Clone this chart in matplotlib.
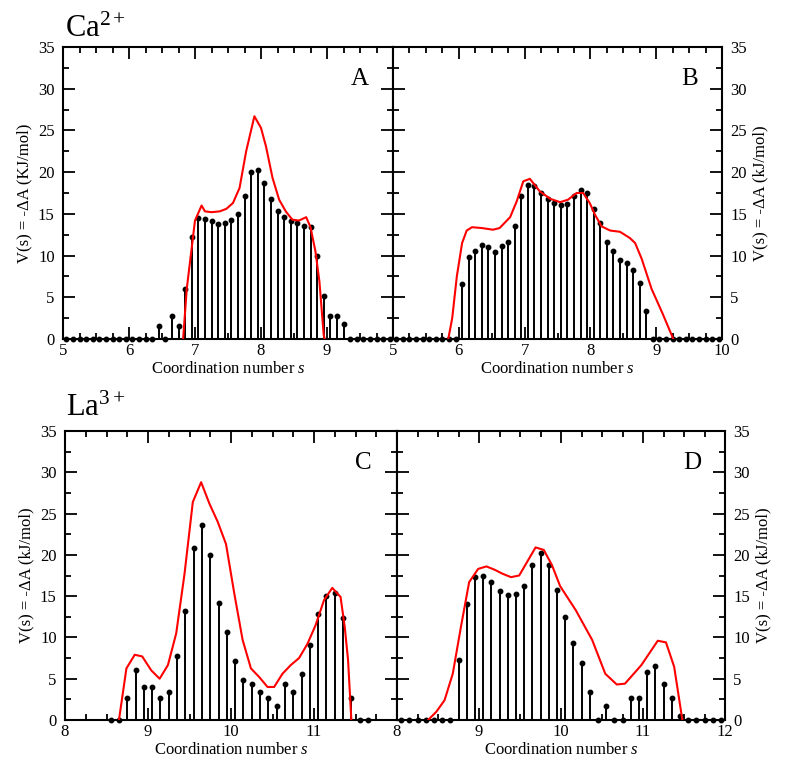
import numpy as np
import matplotlib
matplotlib.use('Agg')
import matplotlib.pyplot as plt
from matplotlib.ticker import MultipleLocator

plt.rcParams['font.family'] = ['Liberation Serif', 'DejaVu Serif']
plt.rcParams['mathtext.fontset'] = 'custom'
plt.rcParams['mathtext.rm'] = 'Liberation Serif'
plt.rcParams['mathtext.it'] = 'Liberation Serif:italic'

# ---- data ----
# Ca2+ : bin centres 5.05 ... 9.95
ca_s = np.round(np.arange(5.05, 10.0, 0.1), 2)
ca_A = [0, 0, 0, 0, 0, 0, 0, 0, 0, 0, 0, 0, 0, 0,
        1.6, 0, 2.7, 1.6, 6.0, 12.2, 14.5, 14.4, 14.2, 13.8, 13.9, 14.3, 15.0,
        17.1, 20.0, 20.3, 18.7, 16.8, 15.3, 14.6, 14.1, 13.9, 13.5, 13.4,
        10.0, 5.2, 2.8, 2.8, 1.8,
        0, 0, 0, 0, 0, 0, 0]
ca_B = [0, 0, 0, 0, 0, 0, 0, 0, 0, 0,
        6.65, 9.8, 10.6, 11.3, 11.0, 10.4, 11.2, 11.6, 13.6, 17.1, 18.5, 18.3,
        17.5, 16.8, 16.25, 16.1, 16.2, 17.2, 17.9, 17.5, 15.6, 13.9, 11.6,
        10.6, 9.5, 9.1, 8.3, 6.7, 3.3,
        0, 0, 0, 0, 0, 0, 0, 0, 0, 0, 0]

fitA_s = [6.82, 6.875, 7.0, 7.1, 7.15, 7.25, 7.375, 7.475, 7.575, 7.675, 7.775,
          7.9, 8.0, 8.075, 8.175, 8.275, 8.375, 8.475, 8.575, 8.685, 8.75,
          8.825, 8.885, 8.95, 8.965]
fitA_v = [0, 6.0, 14.2, 16.0, 15.3, 15.2, 15.3, 15.6, 16.3, 18.1, 22.5,
          26.7, 25.3, 23.1, 19.3, 16.7, 15.3, 14.3, 14.2, 14.6, 13.4,
          10.5, 6.9, 0.5, 0]
fitB_s = [5.84, 5.9, 5.97, 6.05, 6.12, 6.2, 6.35, 6.52, 6.62, 6.78, 6.88, 6.98,
          7.08, 7.23, 7.39, 7.54, 7.66, 7.79, 7.89, 7.99, 8.07, 8.17, 8.30,
          8.45, 8.6, 8.68, 8.78, 8.93, 9.1, 9.26]
fitB_v = [0, 2.5, 7.5, 11.5, 13.0, 13.4, 13.3, 13.1, 13.3, 14.6, 16.5, 18.9,
          19.2, 17.7, 16.8, 16.4, 16.7, 17.5, 17.5, 16.3, 14.9, 13.5, 13.0,
          12.85, 12.1, 11.5, 9.6, 6.0, 3.0, 0]

# La3+
la_sC = np.round(np.arange(8.55, 11.7, 0.1), 2)
la_C = [0, 0, 2.7, 6.1, 4.0, 4.0, 2.7, 3.4, 7.7, 13.2, 20.8, 23.6, 20.0, 14.2,
        10.6, 7.1, 4.8, 4.4, 3.4, 2.7, 1.7, 4.4, 3.4, 5.6, 9.1, 12.8, 15.0,
        15.4, 12.4, 2.7, 0, 0]
la_sD = np.round(np.arange(8.05, 12.0, 0.1), 2)
la_D = [0, 0, 0, 0, 0, 0, 0,
        7.3, 14.0, 17.3, 17.5, 16.7, 15.6, 15.1, 15.3, 16.2, 18.75, 20.2,
        18.75, 15.7, 12.5, 9.3, 6.85, 3.4, 0, 1.7, 0, 0, 2.7, 2.7, 5.85, 6.6,
        4.4, 2.7, 0.5,
        0, 0, 0, 0, 0]

fitC_s = [8.65, 8.74, 8.84, 8.93, 9.04, 9.14, 9.24, 9.34, 9.44, 9.54, 9.64,
          9.74, 9.84, 9.94, 10.04, 10.14, 10.24, 10.34, 10.44, 10.52, 10.62,
          10.72, 10.82, 10.92, 11.02, 11.12, 11.22, 11.32, 11.37, 11.41, 11.45]
fitC_v = [0, 6.25, 7.9, 7.7, 6.0, 5.0, 6.65, 10.5, 17.7, 26.4, 28.8, 26.2,
          24.0, 21.3, 15.3, 9.7, 6.25, 5.2, 4.0, 4.0, 5.6, 6.65, 7.5, 9.2,
          11.5, 14.5, 16.0, 14.9, 11.3, 7.3, 0]
fitD_s = [8.38, 8.48, 8.58, 8.68, 8.78, 8.88, 8.99, 9.09, 9.19, 9.29, 9.39,
          9.49, 9.59, 9.69, 9.79, 9.89, 9.99, 10.18, 10.38, 10.54, 10.68,
          10.78, 10.98, 11.18, 11.28, 11.38, 11.48]
fitD_v = [0, 1.0, 2.4, 5.6, 11.3, 16.7, 18.3, 18.6, 18.2, 17.7, 17.3, 17.5,
          19.2, 20.9, 20.6, 18.75, 16.2, 13.3, 9.7, 5.6, 4.3, 4.4, 6.65, 9.6,
          9.4, 6.45, 0]

ylab_K = 'V(s) = -\u0394A (KJ/mol)'
ylab_k = 'V(s) = -\u0394A (kJ/mol)'
FS = 12

fig = plt.figure(figsize=(8, 7.78), dpi=100)
W, H = 800.0, 778.0
axA = fig.add_axes([63 / W, 1 - 339 / H, 330 / W, 292 / H])
axB = fig.add_axes([393 / W, 1 - 339 / H, 329 / W, 292 / H])
axC = fig.add_axes([65 / W, 1 - 720 / H, 332 / W, 289 / H])
axD = fig.add_axes([397 / W, 1 - 720 / H, 328 / W, 289 / H])


def panel(ax, s, v, fs, fv, xlim, letter, side):
    ax.vlines(s, 0, v, color='black', lw=1.4, zorder=2)
    ax.plot(s, v, 'o', color='black', ms=3.2, clip_on=False, zorder=3)
    ax.plot(fs, fv, color='red', lw=1.5, zorder=4)
    ax.set_xlim(*xlim)
    ax.set_ylim(0, 35)
    ax.xaxis.set_minor_locator(MultipleLocator(0.25))
    ax.yaxis.set_major_locator(MultipleLocator(5))
    ax.yaxis.set_minor_locator(MultipleLocator(2.5))
    ticks = list(range(xlim[0], xlim[1] + 1))
    ax.set_xticks(ticks)
    if side == 'left':
        ax.set_xticklabels([str(t) for t in ticks[:-1]] + [''])
    else:
        ax.set_xticklabels([str(t) for t in ticks])
    ax.tick_params(which='both', direction='in', top=True, bottom=True,
                   left=True, right=True, width=1.3, labelsize=FS)
    ax.tick_params(axis='x', pad=3)
    ax.tick_params(axis='y', pad=6)
    ax.tick_params(which='major', length=8.5)
    ax.tick_params(which='minor', length=4.3)
    if side == 'right':
        ax.tick_params(labelleft=False, labelright=True)
        ax.yaxis.set_label_position('right')
    for sp in ax.spines.values():
        sp.set_linewidth(1.5)
    ax.set_xlabel('Coordination number $s$', fontsize=FS, labelpad=1)
    ax.text(0.9, 0.89, letter, transform=ax.transAxes, fontsize=18,
            ha='center', va='center')


panel(axA, ca_s, ca_A, fitA_s, fitA_v, (5, 10), 'A', 'left')
panel(axB, ca_s, ca_B, fitB_s, fitB_v, (5, 10), 'B', 'right')
panel(axC, la_sC, la_C, fitC_s, fitC_v, (8, 12), 'C', 'left')
panel(axD, la_sD, la_D, fitD_s, fitD_v, (8, 12), 'D', 'right')

axA.set_ylabel(ylab_K, fontsize=FS, labelpad=4)
axB.set_ylabel(ylab_k, fontsize=FS, labelpad=4)
axC.set_ylabel(ylab_k, fontsize=FS, labelpad=4)
axD.set_ylabel(ylab_k, fontsize=FS, labelpad=4)

fig.text(65 / W, 1 - 37 / H, 'Ca$^{2+}$', fontsize=22, ha='left', va='baseline')
fig.text(66 / W, 1 - 416 / H, 'La$^{3+}$', fontsize=22, ha='left', va='baseline')

fig.savefig('out.png', dpi=100)
